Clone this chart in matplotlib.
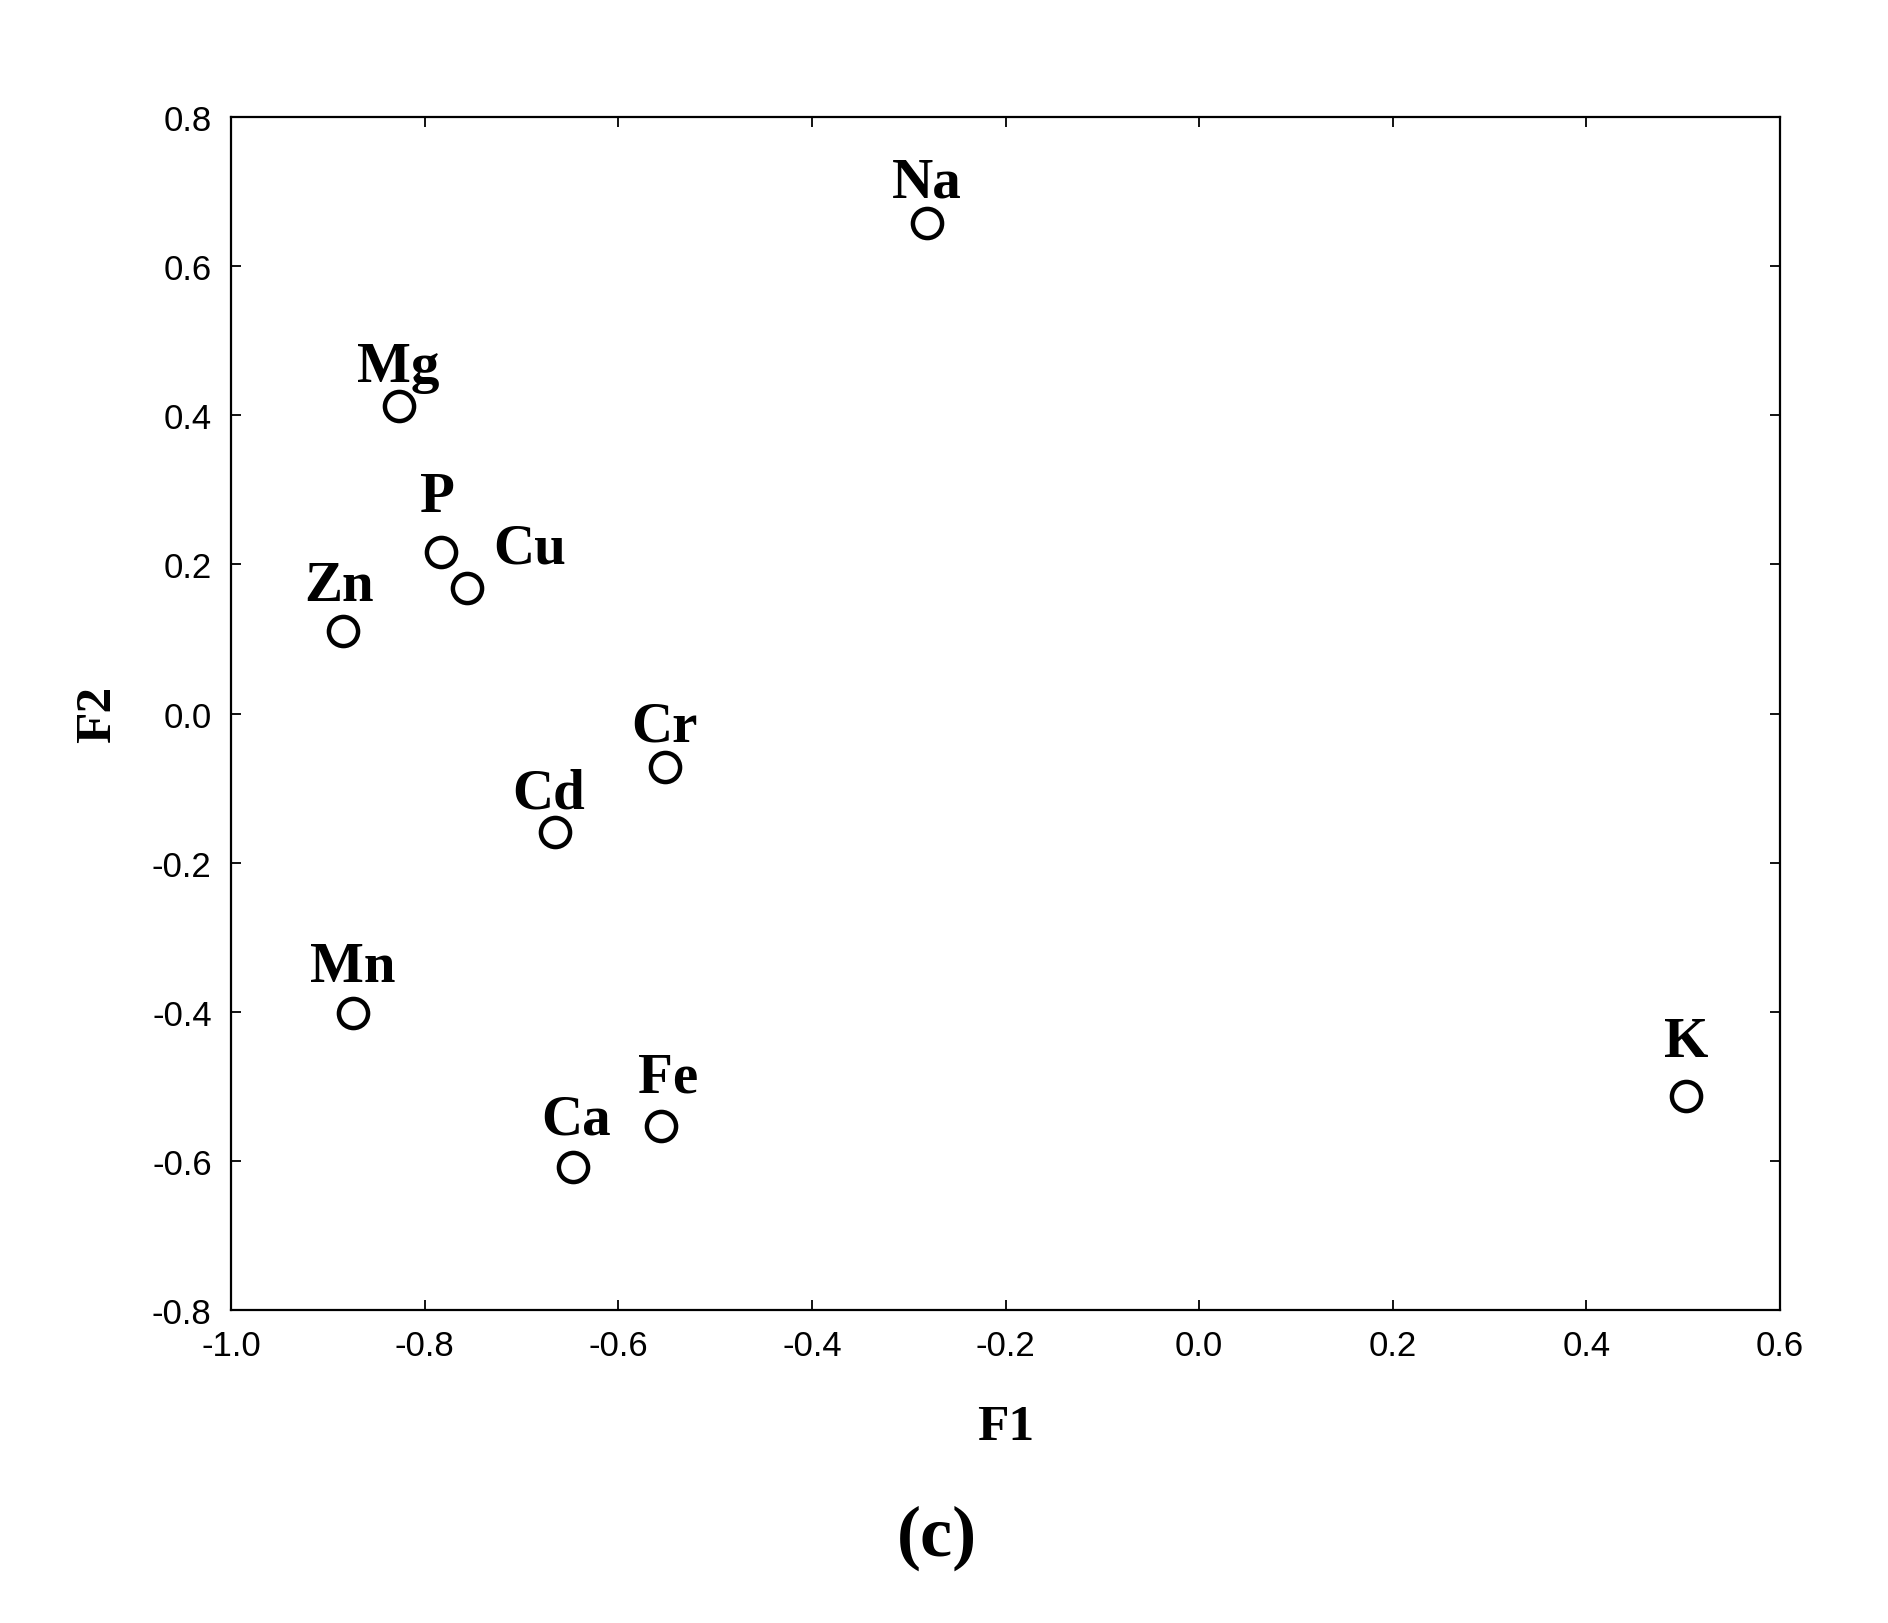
import matplotlib.pyplot as plt

# loadings on F1 / F2
elements = ['Na', 'Mg', 'P', 'Cu', 'Zn', 'Cr', 'Cd', 'Mn', 'Fe', 'Ca', 'K']
f1 = [-0.281, -0.827, -0.783, -0.756, -0.884, -0.552, -0.665, -0.874, -0.556, -0.647, 0.503]
f2 = [0.658, 0.413, 0.217, 0.169, 0.111, -0.072, -0.159, -0.401, -0.553, -0.608, -0.513]

# label offsets (points) from each marker
dx = [0, 0, -3, 45, -3, 0, -5, 0, 5, 2, 0]
dy = [19, 18, 29, 18, 22, 19, 18, 23, 25, 24, 29]

xticks = [-1.0, -0.8, -0.6, -0.4, -0.2, 0.0, 0.2, 0.4, 0.6]
yticks = [-0.8, -0.6, -0.4, -0.2, 0.0, 0.2, 0.4, 0.6, 0.8]

fig = plt.figure(figsize=(18.88, 16.24), dpi=100)
ax = fig.add_axes([0.1224, 0.1927, 0.8204, 0.7346])

ax.plot(f1, f2, 'o', markersize=21, markerfacecolor='none',
        markeredgecolor='black', markeredgewidth=3.2)

for i, nom in enumerate(elements):
    ax.annotate(nom, (f1[i], f2[i]), xytext=(dx[i], dy[i]), textcoords='offset points',
                ha='center', va='baseline', fontsize=41, fontweight='bold',
                family='Liberation Serif')

ax.set_xlim(-1.0, 0.6)
ax.set_ylim(-0.8, 0.8)
ax.set_xticks(xticks)
ax.set_yticks(yticks)
ax.set_xticklabels(['%.1f' % v for v in xticks])
ax.set_yticklabels(['%.1f' % v for v in yticks])
ax.tick_params(direction='in', length=7, width=1.3, top=True, right=True,
               labelsize=25, pad=14)
for lab in ax.get_xticklabels() + ax.get_yticklabels():
    lab.set_family('Liberation Sans')
for s in ax.spines.values():
    s.set_linewidth(1.6)

ax.set_xlabel('F1', fontsize=37, fontweight='bold', family='Liberation Serif', labelpad=30)
ax.set_ylabel('F2', fontsize=37, fontweight='bold', family='Liberation Serif', labelpad=22)

fig.text(0.496, 0.053, '(c)', ha='center', va='center', fontsize=52,
         fontweight='bold', family='Liberation Serif')

fig.savefig('out.png', dpi=100)
